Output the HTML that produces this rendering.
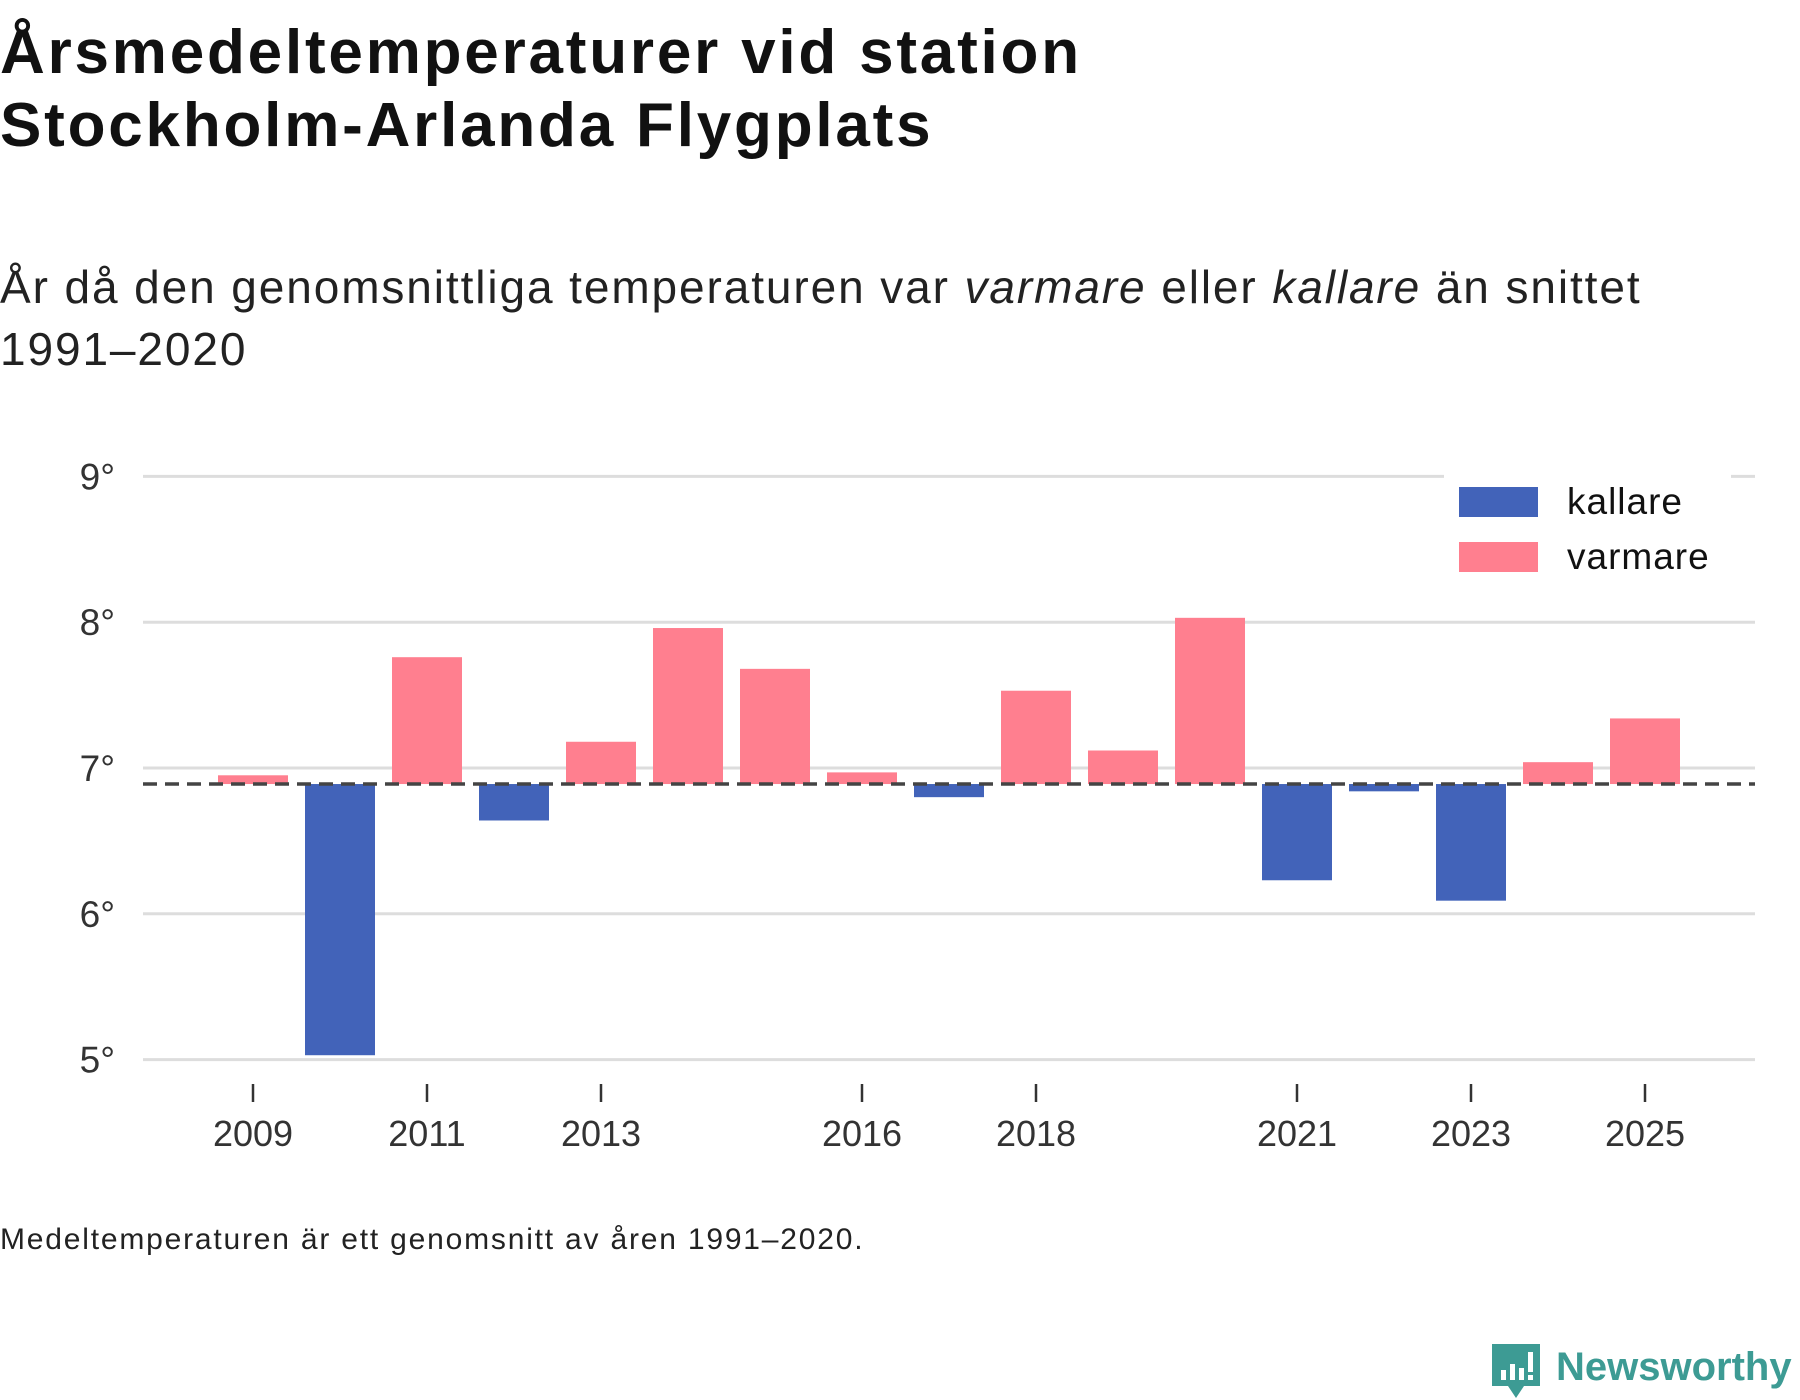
<!DOCTYPE html>
<html><head><meta charset="utf-8">
<style>
html,body{margin:0;padding:0;background:#fff;width:1800px;height:1400px;overflow:hidden}
body{font-family:"Liberation Sans","DejaVu Sans",sans-serif;color:#111;position:relative}
.t{position:absolute;left:0;white-space:nowrap}
</style></head>
<body>
<div class="t" style="top:16px;font-size:62px;font-weight:bold;line-height:73px;letter-spacing:2.8px;color:#111">Årsmedeltemperaturer vid station<br>Stockholm-Arlanda Flygplats</div>
<div class="t" style="top:256px;font-size:46px;line-height:62px;letter-spacing:1.9px;color:#222">År då den genomsnittliga temperaturen var <i>varmare</i> eller <i>kallare</i> än snittet<br>1991–2020</div>
<svg id="chart" width="1800" height="1400" style="position:absolute;left:0;top:0" xmlns="http://www.w3.org/2000/svg"></svg>
<div class="t" style="top:1223px;font-size:30px;letter-spacing:1.8px;color:#222">Medeltemperaturen är ett genomsnitt av åren 1991–2020.</div>
<div style="position:absolute;left:1490px;top:1342px;width:310px;height:58px">
<svg width="52" height="58" style="position:absolute;left:0;top:0"><path d="M2 2 H50 V44 H34 L26 56 L18 44 H2 Z" fill="#3d9b94"/><rect x="11" y="28" width="5" height="10" fill="#fff"/><rect x="20" y="22" width="5" height="16" fill="#fff"/><rect x="29" y="26" width="5" height="12" fill="#fff"/><rect x="38" y="10" width="5" height="20" fill="#fff"/><rect x="38" y="33" width="5" height="5" fill="#fff"/></svg>
<span style="position:absolute;left:66px;top:3px;font-size:40px;font-weight:bold;color:#3d9b94">Newsworthy</span></div>
<script>
const years=[2009,2010,2011,2012,2013,2014,2015,2016,2017,2018,2019,2020,2021,2022,2023,2024,2025];
const temps=[6.95,5.03,7.76,6.64,7.18,7.96,7.68,6.97,6.80,7.53,7.12,8.03,6.23,6.84,6.09,7.04,7.34];
const baseline=6.89;
const yTicks=[5,6,7,8,9];
const xTickYears=[2009,2011,2013,2016,2018,2021,2023,2025];
const NS="http://www.w3.org/2000/svg";
const svg=document.getElementById('chart');
const x=yr=>253+87*(yr-2009);
const y=v=>476.4+(9-v)*145.8;
function mk(tag,attrs){const e=document.createElementNS(NS,tag);for(const k in attrs)e.setAttribute(k,attrs[k]);svg.appendChild(e);return e;}
yTicks.forEach(v=>{
  const g=mk('line',{x1:143,x2:1755,y1:y(v),y2:y(v),stroke:'#dddddd','stroke-width':3});
  
  
  const t=mk('text',{x:115,y:y(v)+13,'text-anchor':'end','font-size':37,fill:'#333','font-family':'Liberation Sans, sans-serif'});
  t.textContent=v+'°';
  
  
});
years.forEach((yr,i)=>{
  const v=temps[i];const top=Math.min(y(v),y(baseline));const h=Math.abs(y(v)-y(baseline));
  const r=mk('rect',{x:x(yr)-35,y:top,width:70,height:h,fill:v>=baseline?'#ff7f8f':'#4263b9'});
  
  
});
const d=mk('line',{x1:143,x2:1755,y1:y(baseline),y2:y(baseline),stroke:'#444','stroke-width':3.5,'stroke-dasharray':'14 8'});


xTickYears.forEach(yr=>{
  const l=mk('line',{x1:x(yr),x2:x(yr),y1:1084,y2:1102,stroke:'#333','stroke-width':2.5});
  
  
  const t=mk('text',{x:x(yr),y:1146,'text-anchor':'middle','font-size':36,fill:'#333','font-family':'Liberation Sans, sans-serif'});
  t.textContent=yr;
  
  
});
const lb=mk('rect',{x:1444,y:470,width:287,height:115,fill:'#fff'});


[['kallare','#4263b9',487],['varmare','#ff7f8f',542]].forEach(([n,c,yy])=>{
  const s=mk('rect',{x:1459,y:yy,width:79,height:30,fill:c});
  
  
  const t=mk('text',{x:1567,y:yy+27,'font-size':37,'letter-spacing':1,fill:'#111','font-family':'Liberation Sans, sans-serif'});
  t.textContent=n;
  
  
});
</script>
</body></html>
